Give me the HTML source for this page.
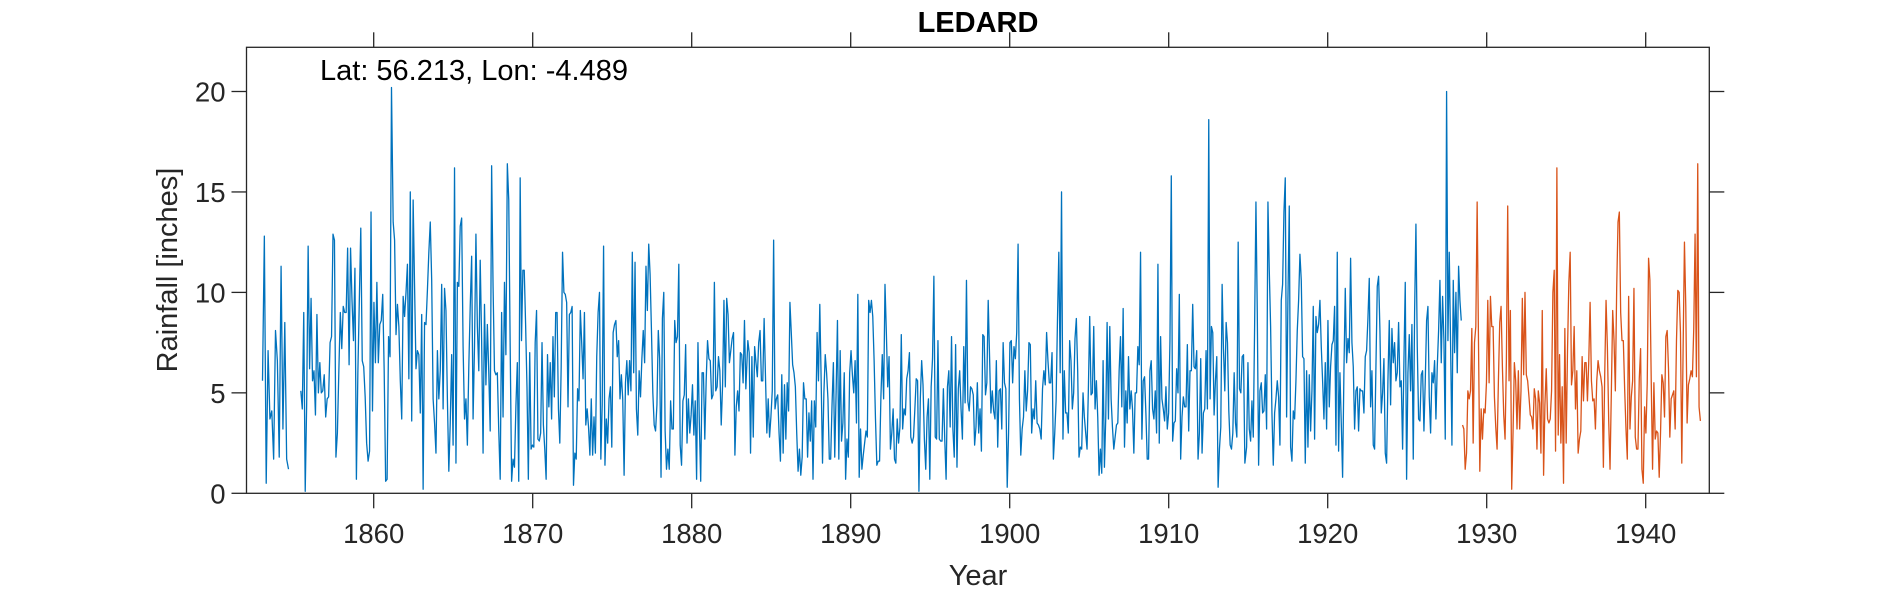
<!DOCTYPE html>
<html>
<head>
<meta charset="utf-8">
<style>
  html,body{margin:0;padding:0;background:#fff;}
  svg{display:block;}
  text{font-family:"Liberation Sans",Arial,sans-serif;fill:#262626;}
</style>
</head>
<body>
<svg id="chart" width="1890" height="591" viewBox="0 0 1890 591" xmlns="http://www.w3.org/2000/svg">
  <rect x="0" y="0" width="1890" height="591" fill="#ffffff"/>
  <g id="ticks"></g>
  <g id="series"></g>
  <rect x="246.5" y="47.3" width="1462.8" height="446" fill="none" stroke="#262626" stroke-width="1.3"/>
  <text x="978" y="32" text-anchor="middle" font-size="29" font-weight="bold" style="fill:#000">LEDARD</text>
  <text x="320" y="80" font-size="29" style="fill:#000">Lat: 56.213, Lon: -4.489</text>
  <text x="978" y="585" text-anchor="middle" font-size="29">Year</text>
  <text transform="translate(177,270) rotate(-90)" text-anchor="middle" font-size="29">Rainfall [inches]</text>
</svg>
<script>
const xTicks=[1860,1870,1880,1890,1900,1910,1920,1930,1940];
const yTicks=[0,5,10,15,20];
const xDomain=[1852,1944];
const yDomain=[0,22.2];

const blueStarts=[1853.006,1855.417,1861.224,1869.296,1883.53,1903.35,1914.90];
const blueEnds=[1854.642,1861.119,1869.212,1883.405,1903.26,1914.79,1928.40];
const blueSeg1=[5.6,12.8,0.5,7.1,3.7,4.1,1.7,8.1,6.6,1.8,11.3,3.2,8.5,1.7,1.2];
const blueSeg2=[5.1,4.2,9.0,0.1,4.5,12.3,6.2,9.7,5.6,6.1,3.9,8.9,5.0,6.5,5.0,5.1,5.9,3.8,4.7,4.8,7.5,7.8,12.9,12.6,1.8,3.0,6.1,9.0,7.2,9.3,9.0,9.0,12.2,6.4,12.2,9.6,7.6,11.2,0.7,6.0,9.6,13.2,6.6,6.3,4.8,2.5,1.6,2.1,14.0,4.1,9.5,6.5,10.5,6.5,8.4,8.6,9.9,6.1,0.6,0.7,7.8,6.8,20.2];
const blueSeg3=[13.5,12.6,7.9,9.4,8.3,5.6,3.7,9.8,8.8,10.0,11.4,5.7,15.0,3.6,14.6,10.3,6.2,7.1,6.9,4.0,8.9,0.2,8.5,8.4,10.1,12.0,13.5,10.6,4.7,3.5,2.0,7.1,4.7,6.1,10.4,4.2,10.2,9.1,4.7,1.1,3.5,6.9,2.4,16.2,1.5,10.5,10.3,13.3,13.7,7.3,3.7,4.7,2.4,6.3,9.3,11.8,3.7,7.3,12.9,8.3,6.1,11.6,7.6,2.0,9.4,5.4,8.4,6.0,3.1,16.3,10.3,6.1,5.9,6.0,3.1,0.7,9.0,3.8,10.5,6.9,16.4,14.6,7.3,0.6,1.7,1.3,4.3,6.5,0.6,15.7];
const blueSeg4=[7.6,11.1,11.1,8.4,5.3,0.7,7.0,2.2,2.4,2.3,7.5,9.1,2.7,2.6,3.0,7.5,3.4,2.2,0.7,6.9,4.3,6.5,3.7,7.8,4.8,9.0,9.0,4.2,2.5,6.3,12.0,10.0,9.9,9.5,4.3,8.9,9.0,9.3,0.4,2.0,1.7,5.2,4.6,9.1,7.5,5.7,9.0,3.4,4.2,3.3,1.9,4.7,1.9,3.8,2.0,6.8,9.0,10.0,1.7,4.4,12.3,1.4,3.7,2.5,4.7,5.3,2.3,8.0,8.4,8.6,6.8,7.6,4.7,5.9,4.7,0.9,5.5,6.6,4.9,6.6,5.1,12.0,6.0,11.5,4.2,2.9,6.1,4.8,6.7,8.1,6.5,11.3,9.1,12.4,10.9,8.1,5.0,3.4,3.1,4.4,8.1,6.7,0.8,8.7,10.0,3.1,1.2,2.2,1.2,4.6,3.2,3.2,8.6,7.5,7.8,11.4,2.4,1.4,4.6,4.9,7.4,2.5,4.7,3.0,3.9,5.4,2.9,4.6,0.7,7.5,3.5,0.6,6.0,6.0,2.7,5.6,7.6,6.7,6.6,4.7,4.9,10.5,5.1,5.3,6.8,6.1,3.4,5.4,9.6,5.3,9.7,8.9,6.5,7.1,7.7,8.0,1.9,4.3,5.1,4.1,7.0,6.9,5.5,8.6,5.2];
const blueSeg5=[7.6,7.0,2.0,6.8,2.8,7.3,6.5,5.8,7.5,8.1,5.6,5.6,8.7,5.8,3.0,4.7,2.8,3.8,5.1,12.6,4.2,4.7,4.9,3.0,1.6,5.9,2.0,5.4,2.7,5.5,4.1,9.5,8.0,6.4,6.0,5.3,3.0,1.1,2.2,0.9,1.8,5.5,4.7,4.7,1.8,4.0,2.6,4.6,0.7,4.6,3.3,8.0,5.6,9.4,5.6,1.5,5.0,6.9,6.0,4.7,1.7,1.7,4.4,6.5,1.8,5.0,8.6,1.7,7.1,2.6,3.5,6.0,0.7,2.7,1.8,6.0,7.1,5.9,5.0,6.6,3.5,9.9,0.8,3.2,1.2,1.9,2.5,3.1,2.8,9.6,9.0,9.6,8.8,6.6,3.7,1.4,1.6,1.6,4.8,6.9,4.7,10.4,8.0,5.3,6.8,2.2,3.0,4.2,1.7,1.5,3.7,2.5,3.3,7.9,3.2,4.2,3.9,5.7,6.1,7.0,2.8,2.5,2.8,4.2,5.7,5.6,0.1,4.7,6.6,5.4,2.7,1.2,3.8,4.7,0.7,5.3,6.7,10.8,2.8,2.7,7.6,2.7,2.6,2.6,5.2,2.7,0.7,5.3,6.1,3.3,7.8,3.2,1.8,7.4,1.3,5.2,6.1,4.2,2.7,7.3,4.5,10.6,4.6,4.1,5.3,5.2,4.9,2.4,3.3,5.5,3.0,4.2,2.1,7.9,7.8,4.9,5.5,9.6,6.8,4.0,5.1,4.1,3.7,6.6,2.3,5.1,5.2,3.2,7.5,5.5,5.2,0.3,3.0,7.5,7.6,5.5,7.3,6.7,8.0,12.4,4.7,1.9,3.2,3.8,6.1,4.1,5.1,7.5,7.4,3.0,4.2,3.7,5.6,3.5,3.4,3.2,2.7,5.2,6.1,5.4,8.0,6.6,5.5,5.5,7.0,1.7,3.0,4.6,8.6,12.0,6.0,15.0];
const blueSeg6=[2.7,6.1,4.0,4.0,3.0,7.6,6.6,4.2,5.0,7.7,8.7,6.1,1.8,2.3,2.2,5.0,3.8,3.0,2.2,5.2,8.8,4.9,5.0,8.3,4.2,5.6,3.8,0.9,2.2,1.0,6.6,1.3,3.8,8.5,3.7,8.3,4.7,3.3,2.2,2.8,3.4,3.5,6.1,7.8,4.3,9.2,2.3,5.1,3.5,6.8,4.2,5.1,4.2,2.0,5.0,5.0,7.3,6.4,12.0,2.7,5.6,5.8,4.0,1.7,1.7,6.1,6.6,4.2,3.7,5.1,3.0,11.4,2.5,7.8,4.7,4.2,3.6,5.3,3.2,4.0,7.6,15.8,2.6,3.5,3.6,6.2,5.0,9.9,1.7,3.8,4.8,4.3,4.3,7.4,3.1,6.1,6.1,9.4,6.3,6.2,7.1,1.7,3.0,6.7,2.0,4.0,4.2,7.1,4.2,18.6,4.7,8.3,8.0,3.9,5.6,6.8,0.3,2.2,3.3,10.4,7.2,5.1,8.5,7.5,4.1,2.4,2.2,3.0,6.0,3.5,2.8,12.5,5.2,5.0,6.8,6.9,1.5];
const blueSeg7=[2.3,6.5,3.2,2.6,4.6,2.8,8.3,14.5,9.0,1.4,5.1,5.5,4.0,4.1,5.9,3.2,14.5,11.1,8.3,4.0,1.4,4.0,4.7,5.6,4.8,2.4,9.6,10.4,14.0,15.7,3.8,9.7,14.3,2.3,1.6,4.1,3.7,5.6,8.1,9.6,11.9,10.6,6.8,6.7,1.5,6.1,2.3,5.9,3.1,5.1,9.3,2.7,8.8,8.0,8.4,9.6,7.3,5.6,3.7,6.5,3.2,8.6,4.3,6.3,7.4,7.6,9.3,2.4,12.0,2.1,6.0,3.5,0.8,6.1,10.2,6.5,7.7,7.0,11.7,7.5,6.3,3.2,5.1,5.3,3.1,5.2,5.1,5.1,4.0,6.8,7.1,8.7,10.7,4.3,6.1,2.4,2.2,6.3,10.3,10.8,8.1,4.0,5.0,6.7,2.0,1.5,5.6,8.6,4.4,8.2,6.5,7.5,5.6,6.0,8.5,5.3,5.6,2.2,6.6,10.5,0.7,6.0,7.9,5.1,8.4,1.7,9.0,13.4,7.3,3.7,3.6,5.9,6.1,3.1,5.6,8.6,9.3,4.8,3.0,6.0,5.5,6.6,3.7,6.3,8.1,10.6,6.5,9.8,7.6,2.7,20.0,7.6,12.0,7.4,2.4,10.6,7.0,10.0,6.0,11.3,9.6,8.6];

const orangeStarts=[1928.48];
const orangeEnds=[1943.44];
const orangeSeg1=[3.4,3.2,1.2,2.0,5.1,4.7,5.1,8.2,2.5,7.5,8.3,14.5,7.6,1.1,4.2,2.7,4.2,4.0,5.5,9.6,5.5,9.8,8.3,8.3,4.8,3.3,2.2,5.6,8.5,9.3,6.3,3.9,2.7,6.6,14.3,5.6,9.1,0.2,3.0,6.5,5.6,3.2,6.1,3.2,5.1,9.7,5.9,10.0,5.9,5.6,4.8,3.9,3.8,3.2,5.2,4.7,2.2,5.1,4.5,2.0,9.1,0.9,4.4,6.2,3.7,3.5,3.7,5.1,10.0,11.1,2.1,16.2,2.9,6.9,2.5,5.3,0.5,8.2,2.5,7.1,10.5,12.0,5.4,6.1,8.3,4.2,6.1,2.0,2.7,3.1,6.8,4.6,6.5,6.5,4.6,6.6,9.5,5.6,4.6,4.7,3.2,5.6,6.6,6.1,5.8,5.3,1.3,5.9,9.6,7.3,3.6,1.2,5.1,9.1,7.6,5.1,10.2,13.5,14.0,9.0,7.6,7.6,5.2,3.2,1.7,9.8,3.2,4.8,5.6,10.2,2.8,2.2,2.2,5.7,7.2,1.2,0.5,4.3,3.0,5.5,11.7,10.6,5.6,1.2,5.5,2.7,3.1,3.0,0.8,3.0,5.9,5.5,3.8,7.8,8.1,6.2,2.8,4.7,4.9,5.1,3.2,7.6,10.1,10.0,8.0,1.5,7.2,12.5,9.3,3.5,5.4,5.7,6.1,5.8,8.2,12.9,5.8,16.4,4.3,3.6];

const X0=246.5, X1=1709.3, Y0=493.3, Y1=47.3;
function xs(t){return X0+(t-xDomain[0])/(xDomain[1]-xDomain[0])*(X1-X0);}
function ys(v){return Y0-(v-yDomain[0])/(yDomain[1]-yDomain[0])*(Y0-Y1);}
const NS='http://www.w3.org/2000/svg';

function segPoints(start,end,vals){
  const pts=[];const n=vals.length;
  for(let i=0;i<n;i++){
    const t=n>1?start+(end-start)*i/(n-1):start;
    pts.push(xs(t).toFixed(2)+','+ys(vals[i]).toFixed(2));
  }
  return pts;
}

const series=document.getElementById('series');
function drawLine(pts,color,name){
  const p=document.createElementNS(NS,'polyline');
  p.setAttribute('points',pts.join(' '));
  p.setAttribute('fill','none');
  p.setAttribute('stroke',color);
  p.setAttribute('stroke-width','1.3');
  p.setAttribute('stroke-linejoin','round');
  
  
  series.appendChild(p);
}

const blueSegs=[blueSeg1,blueSeg2,blueSeg3,blueSeg4,blueSeg5,blueSeg6,blueSeg7];
drawLine(segPoints(blueStarts[0],blueEnds[0],blueSeg1),'#0072BD','observed-series-early');
let mainPts=[];
for(let k=1;k<blueSegs.length;k++){
  mainPts=mainPts.concat(segPoints(blueStarts[k],blueEnds[k],blueSegs[k]));
}
drawLine(mainPts,'#0072BD','observed-series');
drawLine(segPoints(orangeStarts[0],orangeEnds[0],orangeSeg1),'#D95319','later-series');

const ticks=document.getElementById('ticks');
function line(x1,y1,x2,y2,name){
  const l=document.createElementNS(NS,'line');
  l.setAttribute('x1',x1);l.setAttribute('y1',y1);l.setAttribute('x2',x2);l.setAttribute('y2',y2);
  l.setAttribute('stroke','#262626');l.setAttribute('stroke-width','1.3');
  
  
  ticks.appendChild(l);
}
function label(x,y,txt,anchor,name){
  const t=document.createElementNS(NS,'text');
  t.setAttribute('x',x);t.setAttribute('y',y);t.setAttribute('text-anchor',anchor);
  t.setAttribute('font-size','27.5');
  t.textContent=txt;
  
  
  ticks.appendChild(t);
}
xTicks.forEach(v=>{
  const x=xs(v);
  line(x,Y0,x,Y0+15,'x-tick');
  line(x,Y1,x,Y1-15,'x-tick-top');
  label(x,543,String(v),'middle','x-tick-label');
});
yTicks.forEach(v=>{
  const y=ys(v);
  line(X0,y,X0-15,y,'y-tick');
  line(X1,y,X1+15,y,'y-tick-right');
  label(X0-21,y+10,String(v),'end','y-tick-label');
});
</script>
</body>
</html>
